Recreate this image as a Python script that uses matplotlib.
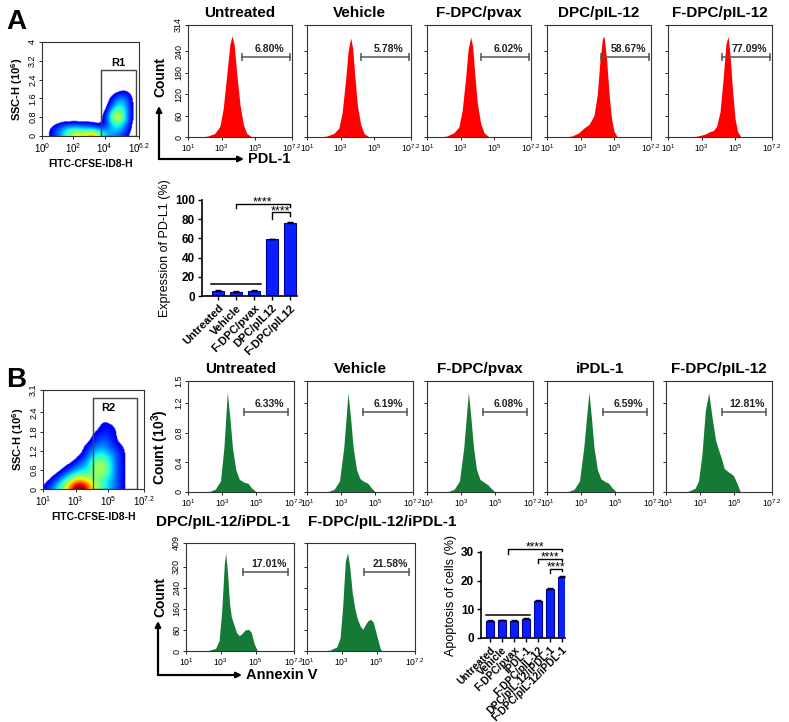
import numpy as np
import matplotlib
matplotlib.use('Agg')
import matplotlib.pyplot as plt
from matplotlib.colors import ListedColormap
from matplotlib.patches import Rectangle, FancyArrowPatch

plt.rcParams['font.family'] = 'Liberation Sans'
plt.rcParams['mathtext.fontset'] = 'custom'
plt.rcParams['mathtext.rm'] = 'Liberation Sans'
plt.rcParams['mathtext.it'] = 'Liberation Sans:italic'
plt.rcParams['mathtext.bf'] = 'Liberation Sans:bold'

W, H = 789, 722

# ---------------- data (x in log10 units) ----------------
# panel A histograms, PD-L1
hist_a_titles = ['Untreated', 'Vehicle', 'F-DPC/pvax', 'DPC/pIL-12', 'F-DPC/pIL-12']
hist_a_pct = ['6.80%', '5.78%', '6.02%', '58.67%', '77.09%']
a_untreated_x = [1.8, 2.2, 2.6, 2.9, 3.1, 3.3, 3.5, 3.62, 3.75, 3.9, 4.1, 4.3, 4.5, 4.8]
a_untreated_y = [0, 3, 10, 30, 80, 170, 260, 283, 260, 180, 90, 35, 10, 0]
a_vehicle_x = [1.8, 2.2, 2.6, 2.9, 3.1, 3.3, 3.45, 3.6, 3.72, 3.85, 4.0, 4.2, 4.4, 4.7]
a_vehicle_y = [0, 3, 10, 25, 70, 160, 240, 278, 250, 170, 90, 35, 10, 0]
a_pvax_x = [1.8, 2.2, 2.6, 2.9, 3.1, 3.3, 3.45, 3.6, 3.72, 3.85, 4.0, 4.2, 4.4, 4.7]
a_pvax_y = [0, 3, 12, 28, 75, 165, 245, 280, 255, 175, 95, 38, 12, 0]
a_dpc_x = [2.0, 2.5, 2.9, 3.2, 3.5, 3.8, 4.0, 4.15, 4.3, 4.4, 4.55, 4.7, 4.85, 5.0, 5.2]
a_dpc_y = [0, 3, 12, 25, 35, 60, 120, 210, 275, 282, 220, 120, 50, 15, 0]
a_fdpc_x = [2.3, 2.8, 3.2, 3.5, 3.7, 3.9, 4.1, 4.3, 4.45, 4.58, 4.7, 4.85, 5.0, 5.15, 5.35]
a_fdpc_y = [0, 3, 8, 15, 18, 30, 70, 170, 260, 282, 230, 130, 50, 15, 0]

# panel B histograms, Annexin V (row 1 in 10^3 counts, row 2 in counts)
hist_b_titles = ['Untreated', 'Vehicle', 'F-DPC/pvax', 'iPDL-1', 'F-DPC/pIL-12',
                 'DPC/pIL-12/iPDL-1', 'F-DPC/pIL-12/iPDL-1']
hist_b_pct = ['6.33%', '6.19%', '6.08%', '6.59%', '12.81%', '17.01%', '21.58%']
b_untreated_x = [1.8, 2.3, 2.6, 2.9, 3.1, 3.3, 3.45, 3.6, 3.8, 4.0, 4.3, 4.5, 4.7, 5.0]
b_untreated_y = [0, 0.01, 0.04, 0.15, 0.6, 1.35, 1.0, 0.6, 0.3, 0.17, 0.13, 0.12, 0.06, 0]
b_vehicle_x = [1.8, 2.3, 2.6, 2.9, 3.15, 3.4, 3.55, 3.7, 3.9, 4.1, 4.35, 4.55, 4.75, 5.0]
b_vehicle_y = [0, 0.01, 0.04, 0.15, 0.6, 1.34, 1.0, 0.6, 0.3, 0.18, 0.14, 0.12, 0.06, 0]
b_pvax_x = [1.8, 2.3, 2.6, 2.9, 3.15, 3.42, 3.57, 3.72, 3.9, 4.1, 4.35, 4.55, 4.75, 5.0]
b_pvax_y = [0, 0.01, 0.04, 0.15, 0.6, 1.35, 1.0, 0.6, 0.3, 0.17, 0.13, 0.1, 0.05, 0]
b_ipdl_x = [1.8, 2.3, 2.6, 2.9, 3.15, 3.45, 3.6, 3.75, 3.95, 4.15, 4.4, 4.6, 4.8, 5.05]
b_ipdl_y = [0, 0.01, 0.04, 0.15, 0.6, 1.35, 1.0, 0.6, 0.3, 0.18, 0.14, 0.12, 0.06, 0]
b_fdpc_x = [1.8, 2.3, 2.7, 2.9, 3.1, 3.3, 3.5, 3.7, 3.9, 4.1, 4.25, 4.4, 4.6, 4.8, 4.95, 5.15, 5.35]
b_fdpc_y = [0, 0.01, 0.05, 0.15, 0.5, 1.1, 1.34, 1.0, 0.7, 0.55, 0.45, 0.32, 0.28, 0.25, 0.22, 0.12, 0]
b_dpc_ipdl_x = [1.8, 2.3, 2.7, 2.9, 3.05, 3.2, 3.28, 3.38, 3.5, 3.6, 3.75, 3.9, 4.05, 4.2, 4.4, 4.6, 4.75, 4.9, 5.1]
b_dpc_ipdl_y = [0, 2, 10, 40, 150, 330, 370, 300, 180, 130, 100, 70, 58, 65, 80, 82, 70, 30, 0]
b_fdpc_ipdl_x = [1.8, 2.3, 2.7, 2.9, 3.05, 3.2, 3.33, 3.45, 3.6, 3.75, 3.9, 4.05, 4.2, 4.35, 4.5, 4.65, 4.8, 5.0, 5.2, 5.3]
b_fdpc_ipdl_y = [0, 3, 15, 50, 170, 340, 372, 320, 220, 160, 120, 95, 82, 100, 115, 120, 110, 60, 10, 0]

# dot plot densities, cells of 0.5 decade x 0.2 (rows bottom -> top)
dens_a = [[0, 1, 2, 4, 6, 4, 8, 3, 2, 2, 1, 0],
          [0, 1, 2, 3, 3, 2, 2, 1, 2, 3, 2, 0],
          [0, 0, 1, 1, 1, 1, 1, 0, 1, 4, 2, 0],
          [0, 0, 0, 0, 0, 0, 0, 0, 1, 7, 3, 0],
          [0, 0, 0, 0, 0, 0, 0, 0, 1, 7, 3, 0],
          [0, 0, 0, 0, 0, 0, 0, 0, 0, 5, 3, 0],
          [0, 0, 0, 0, 0, 0, 0, 0, 0, 3, 3, 0],
          [0, 0, 0, 0, 0, 0, 0, 0, 0, 2, 3, 0],
          [0, 0, 0, 0, 0, 0, 0, 0, 0, 1, 2, 0],
          [0, 0, 0, 0, 0, 0, 0, 0, 0, 0, 1, 0]]
dens_b = [[1, 2, 4, 7, 10, 7, 4, 3, 2, 1, 0, 0],
          [0, 1, 2, 4, 6, 4, 4, 3, 2, 1, 0, 0],
          [0, 0, 1, 2, 3, 3, 4, 5, 2, 1, 0, 0],
          [0, 0, 0, 1, 2, 2, 5, 5, 2, 1, 0, 0],
          [0, 0, 0, 0, 1, 2, 4, 4, 2, 1, 0, 0],
          [0, 0, 0, 0, 0, 1, 3, 3, 2, 1, 0, 0],
          [0, 0, 0, 0, 0, 1, 2, 2, 1, 1, 0, 0],
          [0, 0, 0, 0, 0, 0, 1, 2, 1, 0, 0, 0],
          [0, 0, 0, 0, 0, 0, 1, 1, 1, 0, 0, 0],
          [0, 0, 0, 0, 0, 0, 0, 1, 1, 0, 0, 0],
          [0, 0, 0, 0, 0, 0, 0, 1, 0, 0, 0, 0]]

# bar charts
bar_a_labels = ['Untreated', 'Vehicle', 'F-DPC/pvax', 'DPC/pIL12', 'F-DPC/pIL12']
bar_a_vals = [5.0, 4.5, 5.0, 59.0, 76.0]
bar_a_err = [1.5, 1.2, 1.5, 0.8, 1.5]
bar_b_labels = ['Untreated', 'Vehicle', 'F-DPC/pvax', 'iPDL-1', 'F-DPC/pIL-12',
                'DPC/pIL-12/iPDL-1', 'F-DPC/pIL-12/iPDL-1']
bar_b_vals = [6.0, 6.2, 6.1, 6.6, 12.8, 17.1, 21.3]
bar_b_err = [0.4, 0.2, 0.3, 0.3, 0.3, 0.4, 0.4]

fig = plt.figure(figsize=(W / 100, H / 100), dpi=100)


def px_axes(l, t, r, b):
    return fig.add_axes([l / W, 1 - b / H, (r - l) / W, (b - t) / H])


def frame(ax):
    for s in ax.spines.values():
        s.set_color('#333333')
        s.set_linewidth(0.8)


def smooth(grid, f=10, sigma=7.0):
    # blow the coarse density up and blur it so the blobs look round
    g = np.kron(np.array(grid, float), np.ones((f, f)))
    k = np.exp(-0.5 * (np.arange(-3 * sigma, 3 * sigma + 1) / sigma) ** 2)
    k /= k.sum()
    p = len(k) // 2
    g = np.pad(g, ((p, p), (p, p)), mode='constant')
    g[:p, :] = g[p:p + 1, :]  # keep dots sitting on the x axis
    g = np.apply_along_axis(lambda r: np.convolve(r, k, mode='same'), 1, g)
    g = np.apply_along_axis(lambda c: np.convolve(c, k, mode='same'), 0, g)
    return g[p:, :]


def hist_panel(l, t, w, h, xs, ys, color, ymax, yticks, ytl, title, pct, gate_y, x0, xend, labels):
    ax = px_axes(l, t, l + w, t + h)
    ax.fill_between(xs, ys, color=color, lw=0)
    ax.set_xlim(1, 7.2)
    ax.set_ylim(0, ymax)
    ax.set_xticks([1, 3, 5, 7.2])
    ax.set_xticklabels([r'$10^1$', r'$10^3$', r'$10^5$', r'$10^{7.2}$'], fontsize=6.2)
    ax.set_yticks(yticks)
    if labels:
        ax.set_yticklabels(ytl, fontsize=6.5, rotation=90, va='center')
    else:
        ax.set_yticklabels([])
    ax.tick_params(length=2, width=0.6, pad=1.5)
    frame(ax)
    ax.plot([x0, xend], [gate_y, gate_y], color='#555555', lw=1.1, marker='|', ms=6, mew=1.1)
    ax.text((x0 + xend) / 2 + 0.2, gate_y + ymax * 0.03, pct, ha='center', va='bottom',
            fontsize=7.5, fontweight='bold', color='#222222')
    if title:
        ax.set_title(title, fontsize=11, fontweight='bold', pad=6)
    return ax


def corner_arrow(x, y_bot, y_top, x_end, label):
    yb = (H - y_bot) / H
    fig.patches.append(FancyArrowPatch((x / W, yb), (x / W, (H - y_top) / H), transform=fig.transFigure,
                                       arrowstyle='-|>', mutation_scale=8, lw=1.6, color='k', shrinkA=0, shrinkB=0))
    fig.patches.append(FancyArrowPatch((x / W, yb), (x_end / W, yb), transform=fig.transFigure,
                                       arrowstyle='-|>', mutation_scale=8, lw=1.6, color='k', shrinkA=0, shrinkB=0))
    fig.text((x_end + 4) / W, yb, label, fontsize=10.5, fontweight='bold', va='center', ha='left')


def dot_plot(box, dens, x0, dx, dy, xlim, ylim, xt, xtl, yt, ytl, gate, gate_label, gate_label_pos):
    ax = px_axes(*box)
    img = smooth(dens)
    # smooth() drops the lower padding, so the image starts at y = 0 and grows past the grid
    rows, cols = img.shape
    f = 10
    pad_x = (cols - len(dens[0]) * f) / 2
    ext = [x0 - pad_x / f * dx, x0 + (len(dens[0]) * f + pad_x) / f * dx, 0, rows / f * dy]
    ax.imshow(img, origin='lower', extent=ext, aspect='auto',
              cmap=jet, vmin=0.5, vmax=8, interpolation='bilinear')
    ax.set_xlim(*xlim)
    ax.set_ylim(*ylim)
    ax.set_xticks(xt)
    ax.set_xticklabels(xtl, fontsize=7)
    ax.set_yticks(yt)
    ax.set_yticklabels(ytl, fontsize=6.5, rotation=90, va='center')
    ax.tick_params(length=2, width=0.6, pad=1.5)
    frame(ax)
    ax.add_patch(Rectangle((gate[0], 0), gate[1] - gate[0], gate[2], fill=False, ec='#444444', lw=1))
    ax.text(gate_label_pos[0], gate_label_pos[1], gate_label, ha='center', va='center', fontsize=8, fontweight='bold')
    ax.set_ylabel(r'SSC-H (10$^{\mathbf{6}}$)', fontsize=8, fontweight='bold', labelpad=2)
    ax.set_xlabel('FITC-CFSE-ID8-H', fontsize=7.5, fontweight='bold', labelpad=3)
    return ax


def bar_chart(box, labels, vals, errs, xlim, ymax, yt, ylabel, cap, lab_fs):
    ax = px_axes(*box)
    pos = np.arange(len(vals))
    ax.bar(pos, vals, width=0.67, color='#0a1eff', edgecolor='#000090', lw=0.8)
    ax.errorbar(pos, vals, yerr=[np.zeros(len(errs)), errs], fmt='none',
                ecolor='k', elinewidth=1, capsize=cap, capthick=1)
    ax.set_xlim(*xlim)
    ax.set_ylim(0, ymax)
    ax.set_yticks(yt)
    ax.set_yticklabels([str(v) for v in yt], fontsize=8.5, fontweight='bold')
    ax.set_xticks(pos)
    ax.set_xticklabels(labels, rotation=45, ha='right', rotation_mode='anchor', fontsize=lab_fs, fontweight='bold')
    ax.tick_params(length=3, width=1, pad=2)
    for s in ['top', 'right']:
        ax.spines[s].set_visible(False)
    for s in ['left', 'bottom']:
        ax.spines[s].set_linewidth(1.2)
    ax.set_ylabel(ylabel, fontsize=9, labelpad=3)
    return ax


jet = ListedColormap(plt.cm.jet(np.linspace(0.1, 1.0, 256)))
jet.set_under('white')

fig.text(6 / W, 1 - 22 / H, 'A', fontsize=20, fontweight='bold', va='center')
fig.text(6 / W, 1 - 380 / H, 'B', fontsize=20, fontweight='bold', va='center')

# ---------------- panel A ----------------
dot_plot((42, 42, 139, 136), dens_a, 0.0, 0.5, 0.2, (0, 6.2), (0, 4),
         [0, 2, 4, 6.2], [r'$10^0$', r'$10^2$', r'$10^4$', r'$10^{6.2}$'],
         [0, 0.8, 1.6, 2.4, 3.2, 4], ['0', '0.8', '1.6', '2.4', '3.2', '4'],
         (3.78, 6.0, 2.8), 'R1', (4.9, 3.1))

a_curves = [(a_untreated_x, a_untreated_y), (a_vehicle_x, a_vehicle_y), (a_pvax_x, a_pvax_y),
            (a_dpc_x, a_dpc_y), (a_fdpc_x, a_fdpc_y)]
a_lefts = [188, 307, 427, 547, 668]
for i, (xs, ys) in enumerate(a_curves):
    hist_panel(a_lefts[i], 25, 104, 112, xs, ys, '#ff0000', 314, [0, 60, 120, 180, 240, 314],
               ['0', '60', '120', '180', '240', '314'], hist_a_titles[i], hist_a_pct[i],
               224, 4.2, 7.1, i == 0)

fig.text(160 / W, 1 - 77 / H, 'Count', rotation=90, fontsize=10, fontweight='bold', ha='center', va='center')
corner_arrow(159, 159, 106, 244, 'PDL-1')

ax = bar_chart((202, 200, 297, 296), bar_a_labels, bar_a_vals, bar_a_err, (-0.9, 4.4), 100,
               [0, 20, 40, 60, 80, 100], 'Expression of PD-L1 (%)', 2.5, 8)
ax.plot([-0.4, 2.4], [13, 13], color='k', lw=1.1, clip_on=False)
ax.plot([1, 1, 4, 4], [92, 96, 96, 93], color='k', lw=1, clip_on=False)
ax.text(2.5, 97, '****', ha='center', va='center', fontsize=9)
ax.plot([3, 3, 4, 4], [80, 87, 87, 83], color='k', lw=1, clip_on=False)
ax.text(3.5, 88.5, '****', ha='center', va='center', fontsize=9)

# ---------------- panel B ----------------
dot_plot((43, 390, 144, 489), dens_b, 1.0, 0.5, 0.2, (1, 7.2), (0, 3.1),
         [1, 3, 5, 7.2], [r'$10^1$', r'$10^3$', r'$10^5$', r'$10^{7.2}$'],
         [0, 0.6, 1.2, 1.8, 2.4, 3.1], ['0', '0.6', '1.2', '1.8', '2.4', '3.1'],
         (4.07, 6.77, 2.85), 'R2', (5.0, 2.55))

b_row1 = [(b_untreated_x, b_untreated_y), (b_vehicle_x, b_vehicle_y), (b_pvax_x, b_pvax_y),
          (b_ipdl_x, b_ipdl_y), (b_fdpc_x, b_fdpc_y)]
b_lefts = [188, 307, 427, 547, 666]
for i, (xs, ys) in enumerate(b_row1):
    hist_panel(b_lefts[i], 381, 106, 111, xs, ys, '#157a36', 1.5, [0, 0.4, 0.8, 1.2, 1.5],
               ['0', '0.4', '0.8', '1.2', '1.5'], hist_b_titles[i], hist_b_pct[i],
               1.08, 4.28, 6.86, i == 0)

b_row2 = [(b_dpc_ipdl_x, b_dpc_ipdl_y), (b_fdpc_ipdl_x, b_fdpc_ipdl_y)]
b2_lefts = [186, 307]
for i, (xs, ys) in enumerate(b_row2):
    hist_panel(b2_lefts[i], 543, 108, 108, xs, ys, '#157a36', 409, [0, 80, 160, 240, 320, 409],
               ['0', '80', '160', '240', '320', '409'], None, hist_b_pct[5 + i],
               299, 4.3, 6.85, i == 0)
fig.text(223 / W, 1 - 522 / H, hist_b_titles[5], fontsize=11, fontweight='bold', ha='center', va='center')
fig.text(382 / W, 1 - 522 / H, hist_b_titles[6], fontsize=11, fontweight='bold', ha='center', va='center')

fig.text(160 / W, 1 - 447 / H, r'Count (10$^{\mathbf{3}}$)', rotation=90, fontsize=10, fontweight='bold',
         ha='center', va='center')
fig.text(160 / W, 1 - 597 / H, 'Count', rotation=90, fontsize=10, fontweight='bold', ha='center', va='center')
corner_arrow(158, 675, 621, 242, 'Annexin V')

ax = bar_chart((481, 552, 565, 638), bar_b_labels, bar_b_vals, bar_b_err, (-0.75, 6.25), 30,
               [0, 10, 20, 30], 'Apoptosis of cells (%)', 2, 7.5)
ax.plot([-0.35, 3.35], [8, 8], color='k', lw=1.1, clip_on=False)
ax.plot([1.5, 1.5, 6, 6], [29.3, 31, 31, 30.3], color='k', lw=1, clip_on=False)
ax.text(3.75, 31.5, '****', ha='center', va='center', fontsize=8.5)
ax.plot([4, 4, 6, 6], [26.2, 27.6, 27.6, 27], color='k', lw=1, clip_on=False)
ax.text(5, 28.1, '****', ha='center', va='center', fontsize=8.5)
ax.plot([5, 5, 6, 6], [22.7, 24.1, 24.1, 23.5], color='k', lw=1, clip_on=False)
ax.text(5.5, 24.6, '****', ha='center', va='center', fontsize=8.5)

fig.savefig('out.png', dpi=100)
